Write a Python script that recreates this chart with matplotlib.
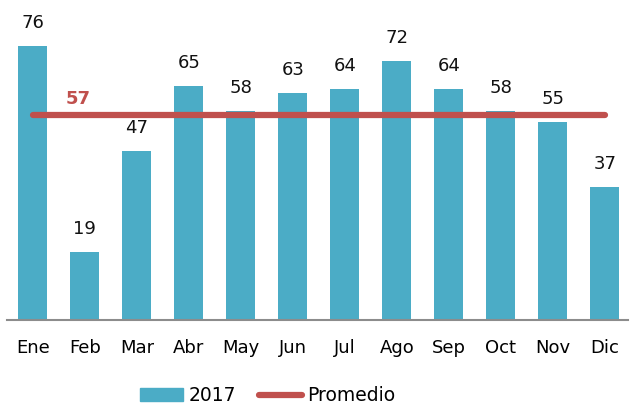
import matplotlib
matplotlib.use("Agg")
import matplotlib.pyplot as plt
from matplotlib.patches import Patch
from matplotlib.lines import Line2D

plt.rcParams["font.family"] = ["DejaVu Sans"]

meses = ["Ene", "Feb", "Mar", "Abr", "May", "Jun", "Jul", "Ago", "Sep", "Oct", "Nov", "Dic"]
valores_2017 = [76, 19, 47, 65, 58, 63, 64, 72, 64, 58, 55, 37]
promedio = 57

azul = "#4BACC6"
rojo = "#C0504D"

fig = plt.figure(figsize=(6.3, 4.04), dpi=100)
ax = fig.add_axes([0.011, 0.208, 0.986, 0.792])

x = list(range(len(meses)))
ax.bar(x, valores_2017, width=0.56, color=azul, zorder=2)
ax.plot([x[0], x[-1]], [promedio] * 2, color=rojo, lw=4.5, solid_capstyle="round", zorder=3)

for xi, v in zip(x, valores_2017):
    ax.annotate(str(v), (xi, v), xytext=(0, 10), textcoords="offset points",
                ha="center", va="bottom", fontsize=13, color="#111111")
ax.text(0.87, 58.7, str(promedio), ha="center", va="bottom", fontsize=13,
        fontweight="bold", color=rojo)

ax.set_xlim(-0.5, 11.45)
ax.set_ylim(0, 88.8)
ax.set_xticks(x)
ax.set_xticklabels(meses, fontsize=13)
ax.tick_params(axis="x", length=0, pad=14)
ax.set_yticks([])
for s in ["top", "right", "left"]:
    ax.spines[s].set_visible(False)
ax.spines["bottom"].set_color("#8c8c8c")
ax.spines["bottom"].set_linewidth(1.5)

handles = [Patch(color=azul, label="2017"),
           Line2D([], [], color=rojo, lw=4.5, solid_capstyle="round", label="Promedio")]
fig.legend(handles=handles, loc="center", bbox_to_anchor=(0.425, 0.02), ncol=2,
           frameon=False, fontsize=13.5, handlelength=2.3, handletextpad=0.3,
           columnspacing=1.2)

fig.savefig("out.png", dpi=100)
